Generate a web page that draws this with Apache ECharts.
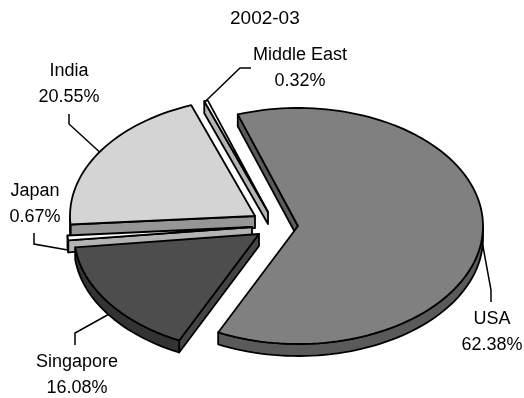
<!DOCTYPE html>
<html>
<head>
<meta charset="utf-8">
<style>html,body{margin:0;padding:0;background:#fff}#chart{width:524px;height:398px}</style>
<script src="https://cdn.jsdelivr.net/npm/echarts@6/dist/echarts.min.js"></script>
</head>
<body>
<div id="chart"></div>
<script>
// Share of exports by region, 2002-03
var chartTitle = '2002-03';
var categories = ['USA', 'Singapore', 'Japan', 'India', 'Middle East'];
var shares = [62.38, 16.08, 0.67, 20.55, 0.32];

// Appearance of each slice, same order as the categories
var topColors = ['#808080', '#4d4d4d', '#ffffff', '#d4d4d4', '#ffffff'];
var wallColors = ['#5a5a5a', '#333333', '#b3b3b3', '#969696', '#b3b3b3'];
var faceColors = ['#5a5a5a', '#444444', '#b3b3b3', '#969696', '#b3b3b3'];
var paintOrder = [2, 4, 3, 1, 5];

// Pie geometry: tilted ellipse, thickness and where each exploded slice sits
var radiusX = 185, radiusY = 118, thickness = 12;
var startAngle = 341;
var sliceCenters = [[298, 226], [259, 234], [252, 227], [255, 216], [268, 212]];
var labelCenters = [[492, 319], [77, 362], [35, 191], [69, 71], [300, 55]];
var labelGap = 26;
var leaderElbows = [
  [[491, 290], [491, 302]],
  [[75, 333], [75, 345]],
  [[34, 244], [34, 233]],
  [[69, 124], [69, 114]],
  [[240, 68], [251, 68]]
];

var fontFamily = '"Liberation Sans", Arial, sans-serif';
var font = '18px ' + fontFamily;
var outlineWidth = 1.8;
var total = shares.reduce(function (a, b) { return a + b; }, 0);

function rad(deg) { return deg * Math.PI / 180; }

// Point on a slice's rim; angles run clockwise from the top of the ellipse
function rim(c, deg, drop) {
  return [c[0] + radiusX * Math.sin(rad(deg)), c[1] - radiusY * Math.cos(rad(deg)) + (drop || 0)];
}

function arc(c, from, to, drop) {
  var pts = [], n = Math.max(2, Math.ceil((to - from) / 2));
  for (var i = 0; i <= n; i++) pts.push(rim(c, from + (to - from) * i / n, drop));
  return pts;
}

function poly(points, fill, z2) {
  return {
    type: 'polygon', z2: z2,
    shape: { points: points },
    style: { fill: fill, stroke: '#000', lineWidth: outlineWidth, lineJoin: 'round' }
  };
}

function renderSlice(params, api) {
  var i = params.dataIndex;
  var before = 0;
  for (var k = 0; k < i; k++) before += shares[k];
  var from = startAngle + before / total * 360;
  var to = from + api.value(0) / total * 360;
  var mid = (from + to) / 2;
  var c = sliceCenters[i];
  var low = [c[0], c[1] + thickness];
  var base = paintOrder[i] * 10;
  var children = [];

  // Cut faces, only those turned toward the viewer
  if (Math.sin(rad(from)) < 0) {
    children.push(poly([c, low, rim(c, from, thickness), rim(c, from)], faceColors[i], base + 1));
  }
  if (Math.sin(rad(to)) > 0) {
    children.push(poly([c, low, rim(c, to, thickness), rim(c, to)], faceColors[i], base + 1));
  }

  // Outer wall where the rim faces the viewer
  for (var turn = 0; turn <= 1; turn++) {
    var a = Math.max(from, 90 + 360 * turn), b = Math.min(to, 270 + 360 * turn);
    if (b > a) {
      children.push(poly(arc(c, a, b, thickness).concat(arc(c, a, b).reverse()), wallColors[i], base + 2));
    }
  }
  children.push(poly([c].concat(arc(c, from, to)), topColors[i], base + 3));

  // Leader line from the rim to the label
  var norm = ((mid % 360) + 360) % 360;
  var anchor = rim(c, mid, norm > 90 && norm < 270 ? thickness : 0);
  children.push({
    type: 'polyline', z2: 100,
    shape: { points: [anchor].concat(leaderElbows[i]) },
    style: { fill: 'none', stroke: '#000', lineWidth: 1.5 }
  });

  // Two-line label: name over percentage
  var lc = labelCenters[i];
  [categories[i], api.value(0).toFixed(2) + '%'].forEach(function (line, n) {
    children.push({
      type: 'text', z2: 110,
      style: {
        text: line, x: lc[0], y: lc[1] + n * labelGap,
        align: 'center', verticalAlign: 'middle', font: font, fill: '#000'
      }
    });
  });
  return { type: 'group', children: children };
}

var chart = echarts.init(document.getElementById('chart'), null, { renderer: 'canvas' });
chart.setOption({
  animation: false,
  backgroundColor: '#fff',
  title: {
    text: chartTitle, left: 230, top: 9, padding: 0,
    textStyle: { fontFamily: fontFamily, fontSize: 19, fontWeight: 'normal', color: '#000' }
  },
  series: [{
    type: 'custom',
    coordinateSystem: 'none',
    renderItem: renderSlice,
    data: shares.map(function (v, i) { return { name: categories[i], value: [v] }; })
  }]
});
</script>
</body>
</html>
